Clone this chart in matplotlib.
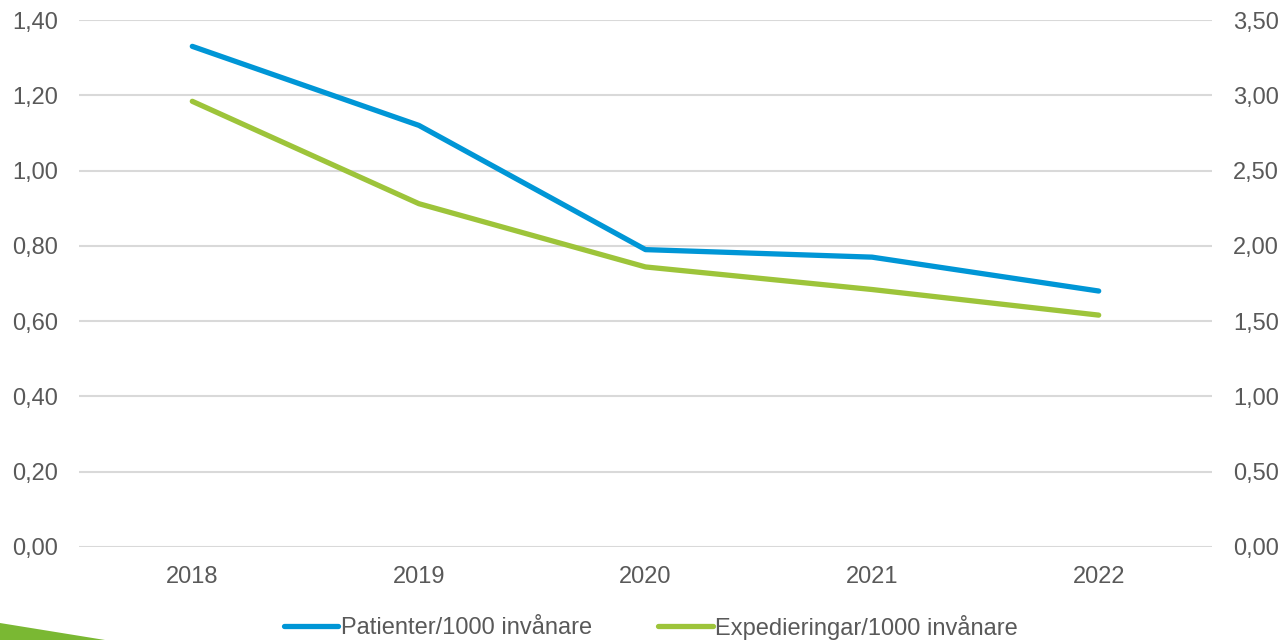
import matplotlib
matplotlib.use("Agg")
import matplotlib.pyplot as plt
from matplotlib.patches import Polygon
from matplotlib.ticker import FuncFormatter

years = ["2018", "2019", "2020", "2021", "2022"]
patienter = [1.33, 1.12, 0.79, 0.77, 0.68]
expedieringar = [2.96, 2.28, 1.86, 1.71, 1.54]
left_ticks = [0.0, 0.2, 0.4, 0.6, 0.8, 1.0, 1.2, 1.4]
right_ticks = [0.0, 0.5, 1.0, 1.5, 2.0, 2.5, 3.0, 3.5]

plt.rcParams['font.family'] = ['Liberation Sans', 'DejaVu Sans']
blue = '#0096d6'
green = '#9dc43a'
txt = '#595959'
fs = 17

fig = plt.figure(figsize=(12.85, 6.4), dpi=100)
ax = fig.add_axes([79/1285, 93/640, (1212-79)/1285, (547-20)/640])
ax2 = ax.twinx()

x = list(range(len(years)))
l1, = ax.plot(x, patienter, color=blue, lw=3.8, solid_capstyle='round', solid_joinstyle='round', zorder=3,
              label='Patienter/1000 invånare')
l2, = ax2.plot(x, expedieringar, color=green, lw=3.8, solid_capstyle='round', solid_joinstyle='round', zorder=3,
               label='Expedieringar/1000 invånare')

ax.set_xlim(-0.5, len(years) - 0.5)
ax.set_ylim(0, 1.4)
ax2.set_ylim(0, 3.5)
ax.set_yticks(left_ticks)
ax2.set_yticks(right_ticks)
fmt = FuncFormatter(lambda v, p: f"{v:.2f}".replace('.', ','))
ax.yaxis.set_major_formatter(fmt)
ax2.yaxis.set_major_formatter(fmt)
ax.set_xticks(x)
ax.set_xticklabels(years)

ax.grid(axis='y', color='#d9d9d9', lw=1.5, zorder=0)
ax.set_axisbelow(True)
for a in (ax, ax2):
    for s in a.spines.values():
        s.set_visible(False)
    a.tick_params(length=0, labelsize=fs, labelcolor=txt)
ax.tick_params(axis='y', pad=15)
ax2.tick_params(axis='y', pad=15)
ax.tick_params(axis='x', pad=14)

fig.legend(handles=[l1, l2], loc='center', bbox_to_anchor=(651/1285, 1 - 627/640), ncol=2,
           frameon=False, fontsize=fs, labelcolor=txt, handlelength=2.3, handletextpad=0.12,
           columnspacing=2.8)

poly = Polygon([[0, 17/640], [0, 0], [105/1285, 0]], closed=True, transform=fig.transFigure,
               facecolor='#7ab833', edgecolor='none')
fig.patches.append(poly)

fig.savefig('out.png', dpi=100)
